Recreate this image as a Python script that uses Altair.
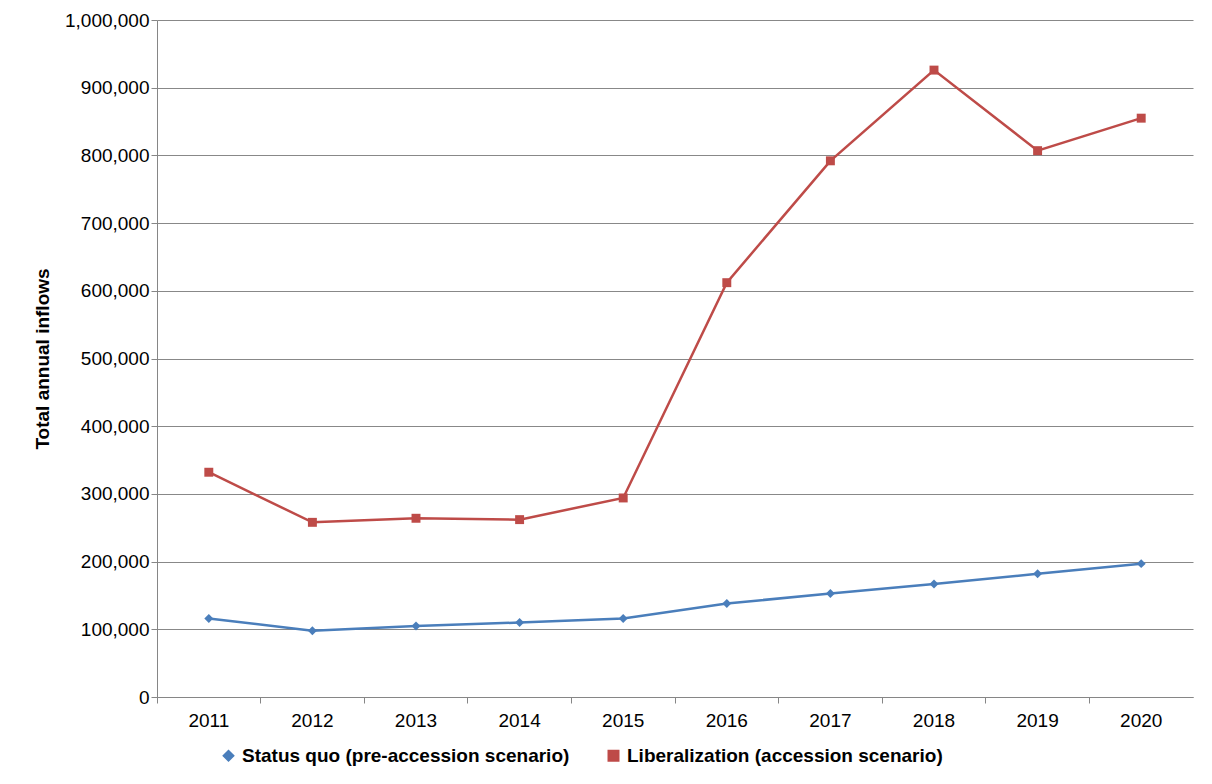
import altair as alt
import pandas as pd

years = ["2011", "2012", "2013", "2014", "2015", "2016", "2017", "2018", "2019", "2020"]
status_quo = [116000, 98000, 105000, 110000, 116000, 138000, 153000, 167000, 182000, 197000]
liberal = [332000, 258000, 264000, 262000, 294000, 612000, 792000, 926000, 807000, 855000]
names = ["Status quo (pre-accession scenario)", "Liberalization (accession scenario)"]

df = pd.concat([
    pd.DataFrame({"year": years, "value": status_quo, "series": names[0]}),
    pd.DataFrame({"year": years, "value": liberal, "series": names[1]}),
])

font = "Liberation Sans"
color = alt.Color("series:N", sort=names,
                  scale=alt.Scale(domain=names, range=["#4a7ebb", "#be4b48"]),
                  legend=alt.Legend(orient="none", legendX=62, legendY=726, direction="horizontal",
                                    title=None, symbolSize=110, columnPadding=34,
                                    labelLimit=500))
shape = alt.Shape("series:N", sort=names,
                  scale=alt.Scale(domain=names, range=["diamond", "square"]), legend=None)

x = alt.X("year:O", title=None,
          scale=alt.Scale(type="band", paddingInner=0, paddingOuter=0),
          axis=alt.Axis(labelAngle=0, bandPosition=0))
y = alt.Y("value:Q", title="Total annual inflows",
          scale=alt.Scale(domain=[0, 1000000]),
          axis=alt.Axis(values=list(range(0, 1000001, 100000)), format=",.0f", titlePadding=12))

base = alt.Chart(df).encode(x=x, y=y, color=color)
line = base.mark_line(strokeWidth=2.5)
pts = base.mark_point(filled=True, size=80, opacity=1).encode(shape=shape)

chart = (line + pts).properties(
    width=1036, height=677,
    autosize=alt.AutoSizeParams(type="none"),
    padding={"left": 149, "top": 12, "right": 11, "bottom": 79},
).configure_view(stroke=None).configure_axis(
    labelFont=font, labelFontSize=19, labelColor="#000",
    titleFont=font, titleFontSize=19, titleFontWeight="bold", titleColor="#000",
    gridColor="#888888", domainColor="#868686", tickColor="#868686", tickSize=6,
).configure_axisX(grid=False, labelPadding=8).configure_legend(
    labelFont=font, labelFontSize=19, labelFontWeight="bold", labelColor="#000",
)

chart.save("out.html", embed_options={"renderer": "svg", "actions": False})
